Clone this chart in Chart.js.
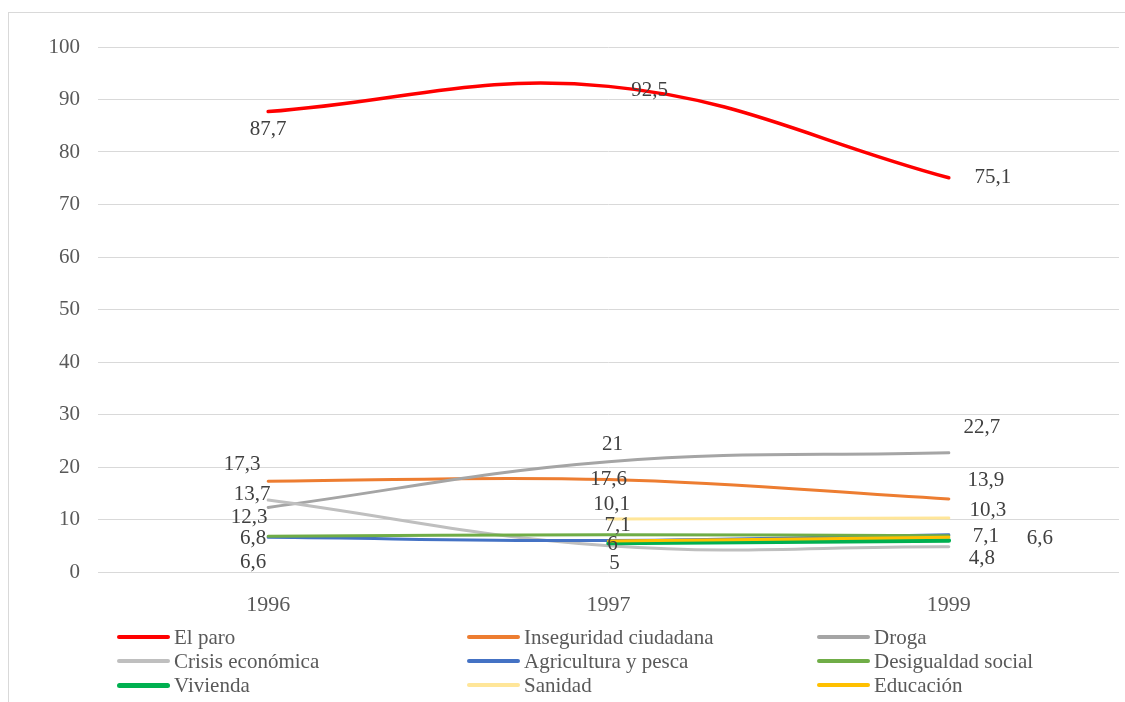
<!DOCTYPE html>
<html>
<head>
<meta charset="utf-8">
<script src="https://cdn.jsdelivr.net/npm/chart.js@4"></script>
<style>
  html, body { margin: 0; padding: 0; background: #fff; }
  body { width: 1125px; height: 702px; position: relative; overflow: hidden; font-family: "Liberation Serif", "Times New Roman", serif; }
  #frame { position: absolute; left: 8px; top: 12px; width: 1130px; height: 700px; border: 1px solid #d9d9d9; box-sizing: border-box; }
  #chart-wrap { position: absolute; left: 0; top: 0; width: 1125px; height: 702px; }
  #legend { position: absolute; left: 117px; top: 625px; display: grid; grid-template-columns: 350px 350px 300px; grid-auto-rows: 24px; }
  .item { display: flex; align-items: center; font-size: 21px; color: #595959; white-space: nowrap; }
  .swatch { display: inline-block; width: 53px; border-radius: 3px; margin-right: 4px; }
</style>
</head>
<body>
<div id="frame"></div>
<div id="chart-wrap"><canvas id="problemas-chart" width="1125" height="702"></canvas></div>
<div id="legend"></div>
<script>
// años de la encuesta
const years = ['1996', '1997', '1999'];

// porcentajes por problema
const elParo = [87.7, 92.5, 75.1];
const inseguridad = [17.3, 17.6, 13.9];
const droga = [12.3, 21, 22.7];
const crisis = [13.7, 5, 4.8];
const agricultura = [6.6, 6, 7.1];
const desigualdad = [6.8, 7.1, 6.9];
const vivienda = [null, 5.5, 6.0];
const sanidad = [null, 10.1, 10.3];
const educacion = [null, 5.9, 6.6];

const yTicks = [0, 10, 20, 30, 40, 50, 60, 70, 80, 90, 100];

// nombre, datos, color, grosor
const series = [
    ['El paro', elParo, '#ff0000', 3.5],
    ['Inseguridad ciudadana', inseguridad, '#ed7d31', 3],
    ['Droga', droga, '#a5a5a5', 3],
    ['Crisis económica', crisis, '#bfbfbf', 3],
    ['Agricultura y pesca', agricultura, '#4472c4', 3],
    ['Desigualdad social', desigualdad, '#70ad47', 3],
    ['Vivienda', vivienda, '#00b050', 4.5],
    ['Sanidad', sanidad, '#ffe699', 3],
    ['Educación', educacion, '#ffc000', 3]
];

// desplazamiento de cada etiqueta respecto a su punto (null = sin etiqueta)
const labelOffsets = {
    'El paro': [[0, 18], [41, 4], [44, 0]],
    'Inseguridad ciudadana': [[-26, -17], [0, 0], [37, -19]],
    'Droga': [[-19, 10], [4, -17], [33, -25]],
    'Crisis económica': [[-16, -6], [6, 18], [33, 12]],
    'Agricultura y pesca': [[-15, 25], [4, 4], [37, 2]],
    'Desigualdad social': [[-15, 2], [9, -9], null],
    'Vivienda': [null, null, null],
    'Sanidad': [null, [3, -14], [39, -7]],
    'Educación': [null, null, [91, 1]]
};

const FONT = '"Liberation Serif", "Times New Roman", serif';

//dibuja los valores junto a cada punto, con coma decimal
const valueLabels = {
    id: 'valueLabels',
    afterDatasetsDraw(chart) {
        const ctx = chart.ctx;
        ctx.save();
        ctx.font = '21px ' + FONT;
        ctx.fillStyle = '#404040';
        ctx.textAlign = 'center';
        ctx.textBaseline = 'middle';
        chart.data.datasets.forEach(function (ds, i) {
            const offs = labelOffsets[ds.label];
            const meta = chart.getDatasetMeta(i);
            meta.data.forEach(function (pt, j) {
                const v = ds.data[j];
                if (v == null || !offs[j]) return;
                const txt = String(v).replace('.', ',');
                ctx.fillText(txt, pt.x + offs[j][0], pt.y + offs[j][1]);
            });
        });
        ctx.restore();
    }
};

var ctx = document.getElementById('problemas-chart').getContext('2d');
var myChart = new Chart(ctx, {
    type: 'line',
    data: {
        labels: years,
        datasets: series.map(function (s, i) {
            return {
                label: s[0],
                data: s[1],
                borderColor: s[2],
                backgroundColor: s[2],
                borderWidth: s[3],
                borderCapStyle: 'round',
                pointRadius: 0,
                tension: 0.4,
                order: series.length - i
            };
        })
    },
    options: {
        responsive: false,
        animation: false,
        layout: { padding: { top: 47, right: 6, bottom: 70, left: 0 } },
        plugins: { legend: { display: false }, tooltip: { enabled: false } },
        scales: {
            x: {
                offset: true,
                grid: { display: false, drawTicks: false },
                border: { display: false },
                ticks: { font: { family: FONT, size: 22 }, color: '#595959', padding: 20 },
                afterFit: function (scale) { scale.height = 60; }
            },
            y: {
                min: 0,
                max: 100,
                afterBuildTicks: function (scale) { scale.ticks = yTicks.map(function (v) { return { value: v }; }); },
                grid: { color: '#d9d9d9', lineWidth: 1, drawTicks: false },
                border: { display: false },
                ticks: { font: { family: FONT, size: 21 }, color: '#595959', padding: 18 },
                afterFit: function (scale) { scale.width = 98; }
            }
        }
    },
    plugins: [valueLabels]
});

// leyenda en tres columnas
var legend = document.getElementById('legend');
series.forEach(function (s) {
    var item = document.createElement('div');
    item.className = 'item';
    var sw = document.createElement('span');
    sw.className = 'swatch';
    sw.style.background = s[2];
    sw.style.height = (s[3] + 0.5) + 'px';
    item.appendChild(sw);
    item.appendChild(document.createTextNode(s[0]));
    legend.appendChild(item);
});
</script>
</body>
</html>
